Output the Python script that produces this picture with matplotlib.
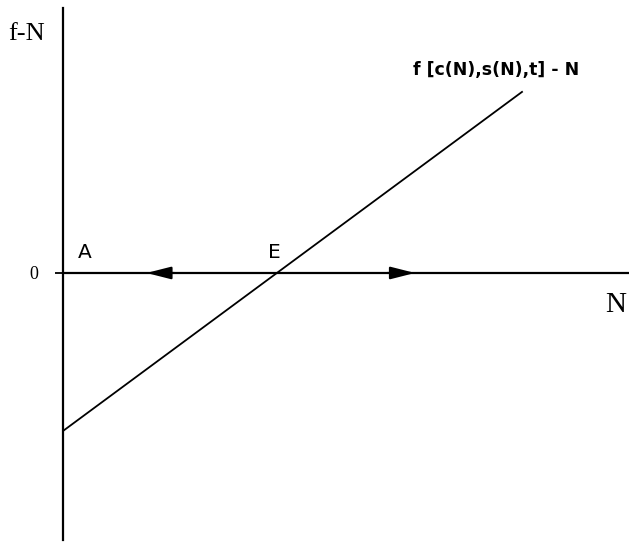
import matplotlib.pyplot as plt

# curve f[c(N),s(N),t] - N, straight line through E
line_N = [0.0, 2.145]
line_fN = [-1.0, 1.146]
# arrows on the N axis: position of tip and direction
arrow_N = [0.39, 1.645]
arrow_dir = [-1, 1]
point_labels = ['A', 'E']
point_N = [0.1, 0.99]

fig = plt.figure(figsize=(6.29, 5.42), dpi=100)
ax = fig.add_axes([63 / 629, 2 / 542, 566 / 629, 532 / 542])
ax.set_xlim(0, 2.645)
ax.set_ylim(-1.69, 1.677)

for s in ['top', 'right', 'bottom']:
    ax.spines[s].set_visible(False)
ax.spines['left'].set_linewidth(1.6)
ax.set_xticks([])
ax.set_yticks([0])
ax.set_yticklabels(['0'], fontsize=13, family='Liberation Serif')
ax.tick_params(axis='y', length=6, width=1.3, pad=12)

# N axis (zero line)
ax.plot([0, 2.645], [0, 0], color='black', lw=1.6)
ax.plot(line_N, line_fN, color='black', lw=1.3)

for n, d in zip(arrow_N, arrow_dir):
    ax.annotate('', xy=(n, 0), xytext=(n - d * 0.13, 0),
                arrowprops=dict(arrowstyle='-|>,head_length=1.5,head_width=0.38',
                                color='black', lw=1.5, shrinkA=0, shrinkB=0))

for lab, n in zip(point_labels, point_N):
    ax.text(n, 0.07, lab, fontsize=14.5, family='DejaVu Sans', fontweight='medium',
            ha='center', va='bottom')

fig.text(8 / 629, 1 - 40 / 542, 'f-N', fontsize=19, family='Liberation Serif', ha='left', va='baseline')
fig.text(629 / 629 - 0.005, 1 - 312 / 542, 'N', fontsize=21, family='Liberation Serif', ha='right', va='baseline')
fig.text(413 / 629, 1 - 75 / 542, 'f [c(N),s(N),t] - N', fontsize=12.5, family='DejaVu Sans',
         fontweight='bold', ha='left', va='baseline')

fig.savefig('out.png', dpi=100)
